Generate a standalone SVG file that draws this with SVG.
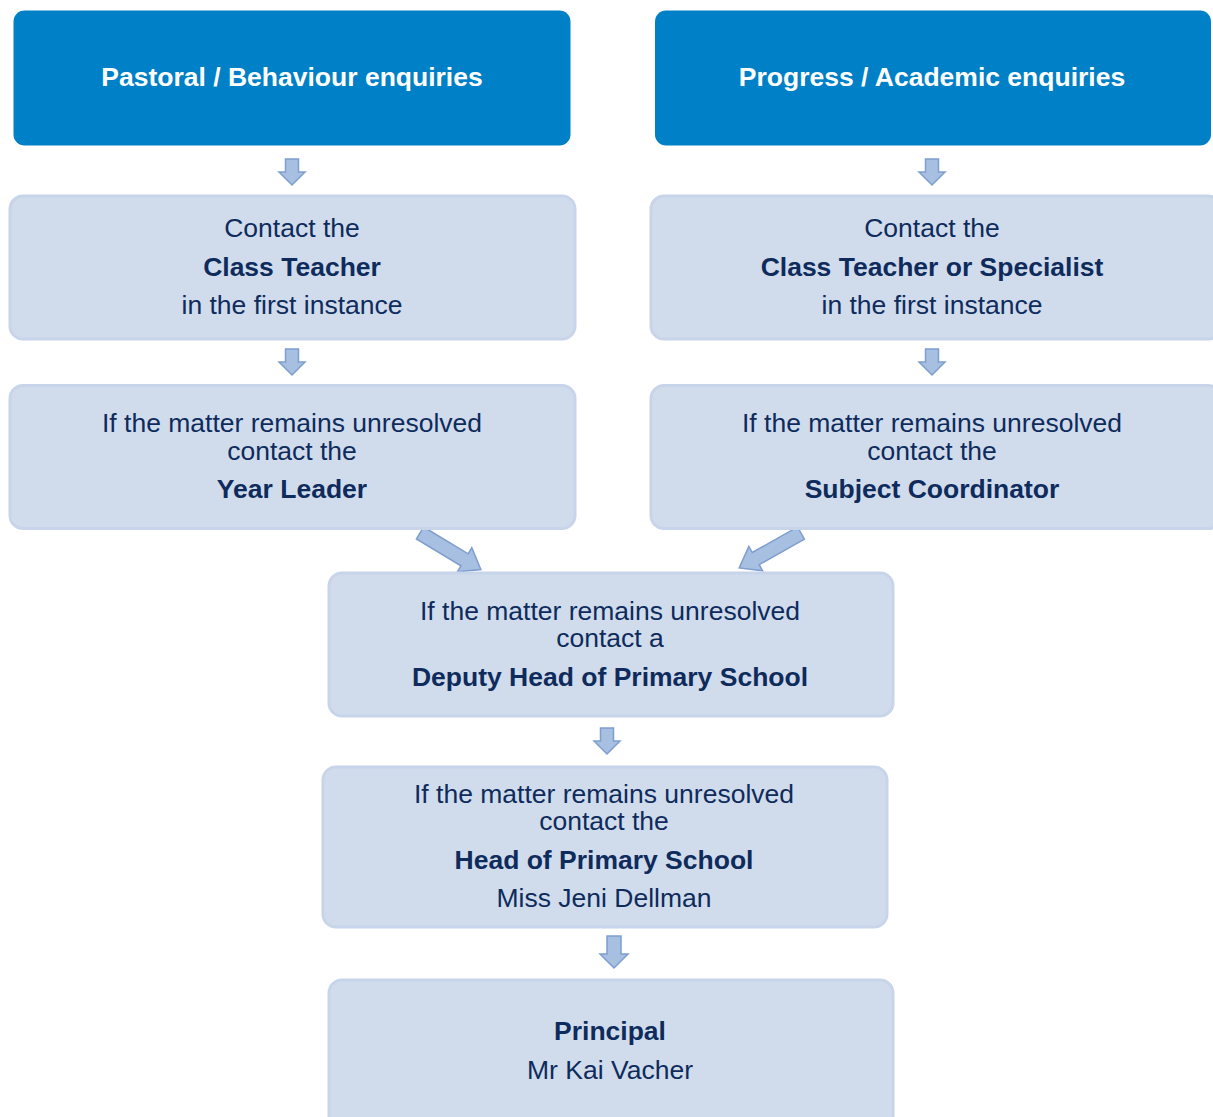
<svg xmlns="http://www.w3.org/2000/svg" width="1213" height="1117" viewBox="0 0 1213 1117">
<style>
.hdr{fill:#0080C6;}
.box{fill:#D0DCEC;stroke:#C7D4E9;stroke-width:3;}
.arr{fill:#A7BFE1;stroke:#7D9ECF;stroke-width:1.5;stroke-linejoin:miter;}
text{font-family:"Liberation Sans",Arial,sans-serif;font-size:26.5px;text-anchor:middle;fill:#0E2B5C;}
.ht{fill:#FFFFFF;font-weight:bold;}
.b{font-weight:bold;}
</style>
<defs>
<path id="down" d="M-6.5,0 h13 v13 h6.5 l-13,13 l-13,-13 h6.5 z"/>
<path id="down2" d="M-7,0 h14 v18 h7 l-14,14 l-14,-14 h7 z"/>
<path id="diag" d="M0,-7 H52 V-14 L71,0 L52,14 V7 H0 Z"/>
</defs>
<g id="connectors">
<use href="#down" class="arr" x="292" y="159"/>
<use href="#down" class="arr" x="932" y="159"/>
<use href="#down" class="arr" x="292" y="349"/>
<use href="#down" class="arr" x="932" y="349"/>
<use href="#diag" class="arr" transform="translate(420,533) rotate(31)"/>
<use href="#diag" class="arr" transform="translate(801,533) rotate(150.5)"/>
<use href="#down" class="arr" x="607" y="728"/>
<use href="#down2" class="arr" x="614" y="936"/>
</g>
<g id="pastoral">
<rect class="hdr" x="13.5" y="10.5" width="557" height="135" rx="11"/>
<text class="ht" x="292" y="86">Pastoral / Behaviour enquiries</text>
</g>
<g id="academic">
<rect class="hdr" x="655" y="10.5" width="556" height="135" rx="11"/>
<text class="ht" x="932" y="86">Progress / Academic enquiries</text>
</g>
<g id="class-teacher">
<rect class="box" x="10" y="196" width="565" height="143" rx="13"/>
<text x="292" y="237">Contact the</text>
<text class="b" x="292" y="276">Class Teacher</text>
<text x="292" y="314">in the first instance</text>
</g>
<g id="class-teacher-specialist">
<rect class="box" x="651" y="196" width="570" height="143" rx="13"/>
<text x="932" y="237">Contact the</text>
<text class="b" x="932" y="276">Class Teacher or Specialist</text>
<text x="932" y="314">in the first instance</text>
</g>
<g id="year-leader">
<rect class="box" x="10" y="385.5" width="565" height="143" rx="13"/>
<text x="292" y="432">If the matter remains unresolved</text>
<text x="292" y="460">contact the</text>
<text class="b" x="292" y="498">Year Leader</text>
</g>
<g id="subject-coordinator">
<rect class="box" x="651" y="385.5" width="570" height="143" rx="13"/>
<text x="932" y="432">If the matter remains unresolved</text>
<text x="932" y="460">contact the</text>
<text class="b" x="932" y="498">Subject Coordinator</text>
</g>
<g id="deputy-head">
<rect class="box" x="329" y="573" width="564" height="143" rx="13"/>
<text x="610" y="620">If the matter remains unresolved</text>
<text x="610" y="647">contact a</text>
<text class="b" x="610" y="686">Deputy Head of Primary School</text>
</g>
<g id="head">
<rect class="box" x="323" y="767" width="564" height="160" rx="13"/>
<text x="604" y="803">If the matter remains unresolved</text>
<text x="604" y="830">contact the</text>
<text class="b" x="604" y="869">Head of Primary School</text>
<text x="604" y="907">Miss Jeni Dellman</text>
</g>
<g id="principal">
<rect class="box" x="329" y="980" width="564" height="150" rx="13"/>
<text class="b" x="610" y="1040">Principal</text>
<text x="610" y="1079">Mr Kai Vacher</text>
</g>
</svg>
